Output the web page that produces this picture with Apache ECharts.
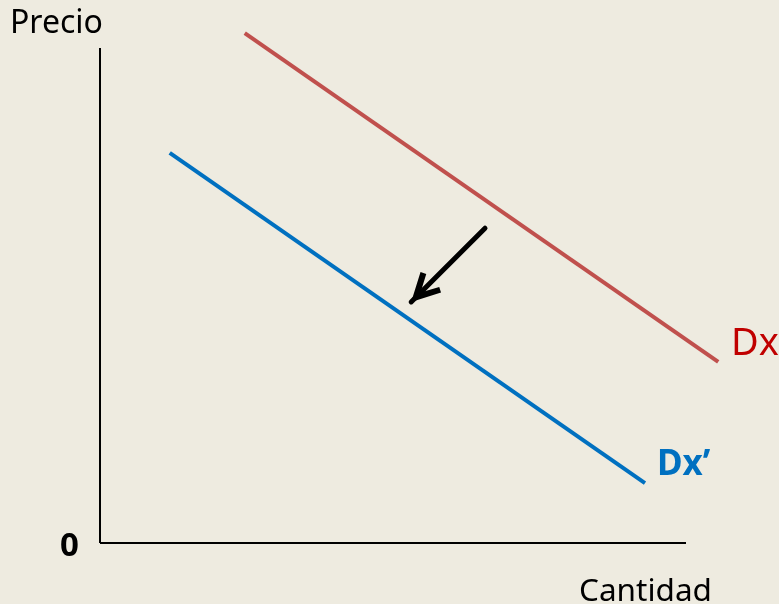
<!DOCTYPE html>
<html>
<head>
<meta charset="utf-8">
<script src="https://cdn.jsdelivr.net/npm/echarts@6/dist/echarts.min.js"></script>
<style>
html,body{margin:0;padding:0;background:#EEEBE0;}
#c{width:779px;height:604px;}
</style>
</head>
<body>
<div id="c"></div>
<script>
// Data (abstract units: quantity 0..10, price 0..10)
const demandX = [[2.47, 10.30], [10.55, 3.66]];   // Dx (original demand)
const demandX2 = [[1.19, 7.88], [9.30, 1.21]];    // Dx' (shifted demand)
const shiftArrow = [[6.57, 6.36], [5.31, 4.87]];  // arrow: from -> to
const axisExtent = { x: 10, y: 10 };
const axisLabels = { y: 'Precio', x: 'Cantidad', origin: '0' };
const curveLabels = ['Dx', 'Dx\u2019'];

const chart = echarts.init(document.getElementById('c'));
const font = '"Noto Sans", "Open Sans", sans-serif';
chart.setOption({
  backgroundColor: '#EEEBE0',
  animation: false,
  grid: { left: 100, right: 34.4, top: 23.25, bottom: 61 },
  xAxis: { type: 'value', min: 0, max: 11, show: false },
  yAxis: { type: 'value', min: 0, max: 10.5, show: false },
  series: [
    {
      name: 'axes', type: 'line', data: [], symbol: 'none',
      markLine: {
        silent: true, symbol: 'none', label: { show: false },
        lineStyle: { color: '#000', width: 2, type: 'solid' },
        data: [
          [{ coord: [0, 0] }, { coord: [axisExtent.x, 0] }],
          [{ coord: [0, 0] }, { coord: [0, axisExtent.y] }]
        ]
      }
    },
    {
      name: curveLabels[0], type: 'line', data: demandX, clip: false,
      symbol: 'none', lineStyle: { color: '#C0504D', width: 4 }, z: 3
    },
    {
      name: curveLabels[1], type: 'line', data: demandX2, clip: false,
      symbol: 'none', lineStyle: { color: '#0070C0', width: 4 }, z: 3,
      markLine: {
        silent: true,
        symbol: ['none', 'path://M12,25.3 L24,48.3 L19.6,50.6 L12,36.3 L4.4,50.6 L0,48.3 Z M12,0 L12,0'],
        symbolSize: [29, 61],
        label: { show: false },
        lineStyle: { color: '#000', width: 5, type: 'solid', cap: 'round' },
        itemStyle: { color: '#000' },
        data: [[{ coord: shiftArrow[0] }, { coord: shiftArrow[1] }]]
      }
    }
  ],
  graphic: [
    { type: 'text', left: 10, top: 8, style: { text: axisLabels.y, font: '32px ' + font, fill: '#000' } },
    { type: 'text', left: 579, top: 576, style: { text: axisLabels.x, font: '31.5px ' + font, fill: '#000' } },
    { type: 'text', left: 60, top: 530, style: { text: axisLabels.origin, font: 'bold 33px ' + font, fill: '#000' } },
    { type: 'text', left: 731, top: 325, style: { text: curveLabels[0], font: '38px ' + font, fill: '#C00000' } },
    { type: 'text', left: 657, top: 448, style: { text: curveLabels[1], font: 'bold 35px ' + font, fill: '#0070C0' } }
  ]
});
</script>
</body>
</html>
